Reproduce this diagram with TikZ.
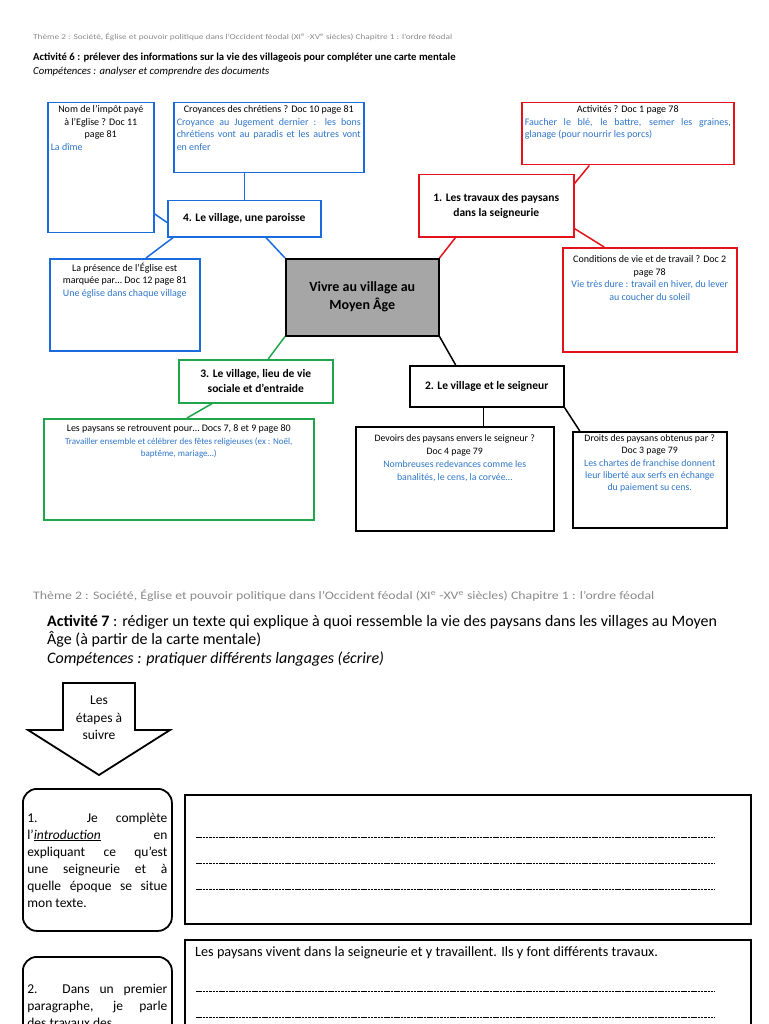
\documentclass[tikz,border=0pt]{standalone}
\usepackage{fontspec}
\setmainfont{Carlito}
\usepackage{tikz}
\usetikzlibrary{calc}
\definecolor{cadrebleu}{HTML}{1A6BE0}
\definecolor{textebleu}{HTML}{2E75C9}
\definecolor{cadrerouge}{HTML}{E3121B}
\definecolor{cadrevert}{HTML}{1FA64A}
\definecolor{grisfond}{HTML}{A6A6A6}
\definecolor{grisentete}{HTML}{8A8A8A}
\newcommand{\rep}[1]{\textcolor{textebleu}{#1}}
\newcommand{\fiche}[3]{\parbox[c][#2][t]{#1}{#3}}
\hyphenpenalty=10000
\tolerance=9999

\begin{document}
\begin{tikzpicture}[x=1pt,y=-1pt,
	carte/.style={draw,rectangle,line width=1.5pt,anchor=north west,inner sep=3pt,font=\fontsize{10}{12.5}\selectfont},
	bleu/.style={carte,draw=cadrebleu},
	rouge/.style={carte,draw=cadrerouge},
	vert/.style={carte,draw=cadrevert},
	noir/.style={carte,draw=black},
	branche/.style={draw,rectangle,line width=1.5pt,anchor=north west,inner sep=2pt,align=center,font=\bfseries\fontsize{11.5}{15}\selectfont},
	lien/.style={line width=1.5pt},
	etape/.style={draw,rectangle,rounded corners=14pt,line width=1.8pt,anchor=north west,inner sep=0pt,font=\fontsize{13.5}{17}\selectfont},
	reponse/.style={draw,rectangle,line width=1.8pt,anchor=north west,inner sep=0pt},
	pointilles/.style={line width=0.8pt,dash pattern=on 2.5pt off 0.8pt}]
	\useasboundingbox (0,0) rectangle (768,1024);
	\clip (0,0) rectangle (768,1024);
	
	% en-tete activite 6
	\node[anchor=west,text=grisentete,font=\fontsize{7.5}{9}\selectfont,inner sep=0pt] (theme1) at (33,37) {\scalebox{1.24}[1]{Thème 2 : Société, Église et pouvoir politique dans l’Occident féodal (XI\textsuperscript{e} -XV\textsuperscript{e} siècles) Chapitre 1 : l’ordre féodal}};
	\node[anchor=west,font=\bfseries\fontsize{10.7}{12}\selectfont,inner sep=0pt] (act6) at (33,58) {Activité 6 : prélever des informations sur la vie des villageois pour compléter une carte mentale};
	\node[anchor=west,font=\itshape\fontsize{10.7}{12}\selectfont,inner sep=0pt] (comp6) at (33,72) {Compétences : analyser et comprendre des documents};
	
	% carte mentale
	\node[carte,fill=grisfond,minimum width=153pt,minimum height=77pt,align=center,font=\bfseries\fontsize{14}{18}\selectfont] (centre) at (285,258) {Vivre au village au\\ Moyen Âge};
	
	\node[branche,draw=cadrebleu,minimum width=153pt,minimum height=36pt] (paroisse) at (167,200) {4. Le village, une paroisse};
	\node[branche,draw=cadrerouge,minimum width=155pt,minimum height=62pt] (travaux) at (418,174) {1. Les travaux des paysans\\ dans la seigneurie};
	\node[branche,draw=cadrevert,minimum width=154pt,minimum height=43pt] (entraide) at (178,359) {3. Le village, lieu de vie\\ sociale et d’entraide};
	\node[branche,draw=black,minimum width=154pt,minimum height=41pt] (seigneur) at (409,365) {2. Le village et le seigneur};
	
	\node[bleu] (impot) at (47,102) {\fiche{100pt}{124pt}{{\centering Nom de l’impôt payé\\ à l’Eglise ? Doc 11\\ page 81\par}\rep{La dîme}}};
	\node[bleu] (croyances) at (173,102) {\fiche{184pt}{64pt}{{\centering Croyances des chrétiens ? Doc 10 page 81\par}\rep{Croyance au Jugement dernier : les bons\linebreak chrétiens vont au paradis et les autres vont\linebreak en enfer}}};
	\node[bleu] (eglise) at (49,258) {\fiche{144pt}{86pt}{\centering\vspace*{1pt}La présence de l’Église est\\ marquée par… Doc 12 page 81\\ \rep{Une église dans chaque village}}};
	\node[vert] (fetes) at (43,418) {\fiche{264pt}{95pt}{\centering\vspace*{3pt}Les paysans se retrouvent pour… Docs 7, 8 et 9 page 80\\ \rep{\fontsize{9}{12.5}\selectfont Travailler ensemble et célébrer des fêtes religieuses (ex : Noël,\\ baptême, mariage…)}}};
	\node[rouge] (activites) at (521,102) {\fiche{206pt}{56pt}{{\centering Activités ? Doc 1 page 78\par}\rep{Faucher le blé, le battre, semer les graines,\linebreak glanage (pour nourrir les porcs)}}};
	\node[rouge] (conditions) at (562,247) {\fiche{168pt}{98pt}{\centering\vspace*{5pt}Conditions de vie et de travail ? Doc 2\\ page 78\\ \rep{Vie très dure : travail en hiver, du lever\\ au coucher du soleil}}};
	\node[noir,font=\fontsize{9.8}{13}\selectfont] (devoirs) at (355,426) {\fiche{192pt}{98pt}{\centering\vspace*{5pt}Devoirs des paysans envers le seigneur ?\\ Doc 4 page 79\\ \rep{Nombreuses redevances comme les\\ banalités, le cens, la corvée…}}};
	\node[noir,font=\fontsize{9.8}{12.3}\selectfont] (droits) at (572,431) {\fiche{148pt}{90pt}{\centering Droits des paysans obtenus par ?\\ Doc 3 page 79\\ \rep{Les chartes de franchise donnent\\ leur liberté aux serfs en échange\\ du paiement su cens.}}};
	
	%liens
	\begin{scope}[lien,draw=cadrebleu]
	\draw ($(impot.south east)!0.15!(impot.north east)$) -- ($(paroisse.south west)!0.4!(paroisse.north west)$);
	\draw (paroisse.north) -- (paroisse.north |- croyances.south);
	\draw ($(paroisse.south west)!0.04!(paroisse.south east)$) -- ($(eglise.north west)!0.64!(eglise.north east)$);
	\draw ($(paroisse.south west)!0.64!(paroisse.south east)$) -- (centre.north west);
	\end{scope}
	\begin{scope}[lien,draw=cadrerouge]
	\draw (centre.north east) -- ($(travaux.south west)!0.24!(travaux.south east)$);
	\draw ($(travaux.north east)!0.15!(travaux.south east)$) -- ($(activites.south west)!0.32!(activites.south east)$);
	\draw ($(travaux.north east)!0.86!(travaux.south east)$) -- ($(conditions.north west)!0.24!(conditions.north east)$);
	\end{scope}
	\begin{scope}[lien,draw=cadrevert]
	\draw (centre.south west) -- ($(entraide.north west)!0.58!(entraide.north east)$);
	\draw ($(entraide.south west)!0.22!(entraide.south east)$) -- ($(fetes.north west)!0.53!(fetes.north east)$);
	\end{scope}
	\begin{scope}[lien,draw=black]
	\draw (centre.south east) -- ($(seigneur.north west)!0.3!(seigneur.north east)$);
	\coordinate (s2) at ($(seigneur.south west)!0.48!(seigneur.south east)$);
	\draw (s2) -- (s2 |- devoirs.north);
	\draw (seigneur.south east) -- ($(droits.north west)!0.05!(droits.north east)$);
	\end{scope}
	
	% en-tete activite 7
	\node[anchor=west,text=grisentete,font=\fontsize{11.5}{13}\selectfont,inner sep=0pt] (theme2) at (33,596) {\scalebox{1.2}[1]{Thème 2 : Société, Église et pouvoir politique dans l’Occident féodal (XI\textsuperscript{e} -XV\textsuperscript{e} siècles) Chapitre 1 : l’ordre féodal}};
	\node[anchor=north west,align=left,font=\fontsize{16}{18.5}\selectfont,inner sep=0pt] (act7) at (47,615) {\textbf{Activité 7} : rédiger un texte qui explique à quoi ressemble la vie des paysans dans les villages au Moyen\\ Âge (à partir de la carte mentale)\\ \textit{Compétences : pratiquer différents langages (écrire)}};
	
	% fleche
	\draw[line width=1.8pt,line join=miter] (63,683) -- (135,683) -- (135,730) -- (170,730) -- (99,775) -- (28,730) -- (63,730) -- cycle;
	\node[align=center,font=\fontsize{13.5}{17.5}\selectfont] (etapes) at (99,718) {Les\\ étapes à\\ suivre};
	
	% etapes
	\node[etape,minimum width=149pt,minimum height=142pt] (etape1) at (22,788) {\parbox{140pt}{1. Je complète\linebreak l’\underline{\textit{introduction}} en\linebreak expliquant ce qu’est\linebreak une seigneurie et à\linebreak quelle époque se situe\linebreak mon texte.}};
	\node[reponse,minimum width=566pt,minimum height=129pt] (texte1) at (184,794) {};
	\foreach \y in {837,863,889}
		\draw[pointilles] (196,\y) -- (715,\y);
	
	\node[etape,minimum width=149pt,minimum height=150pt] (etape2) at (22,956) {\fiche{140pt}{140pt}{\vspace*{22pt}2. Dans un premier\linebreak paragraphe, je parle\linebreak des travaux des}};
	\node[reponse,minimum width=566pt,minimum height=150pt] (texte2) at (184,939) {};
	\node[anchor=west,font=\fontsize{14.2}{16}\selectfont,inner sep=0pt] (phrase) at (195,953) {Les paysans vivent dans la seigneurie et y travaillent. Ils y font différents travaux.};
	\foreach \y in {991,1017}
		\draw[pointilles] (196,\y) -- (715,\y);
\end{tikzpicture}
\end{document}
